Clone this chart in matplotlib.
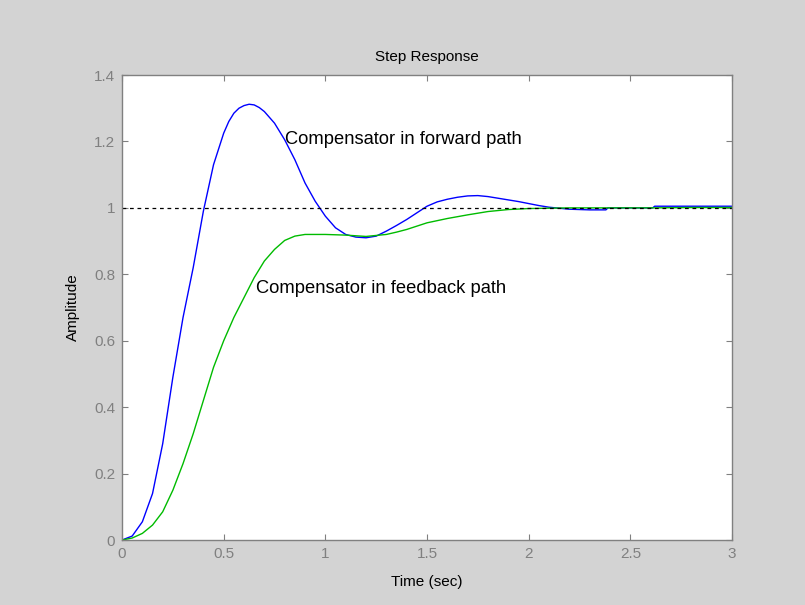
import numpy as np
import matplotlib.pyplot as plt
from matplotlib.ticker import FormatStrFormatter

plt.rcParams['font.family'] = ['Liberation Sans', 'DejaVu Sans']

# Compensator in forward path
t_fwd = [0, 0.05, 0.1, 0.15, 0.2, 0.25, 0.3, 0.35, 0.4, 0.45, 0.5, 0.525,
         0.55, 0.575, 0.6, 0.625, 0.65, 0.675, 0.7, 0.75, 0.8, 0.85, 0.9,
         0.95, 1.0, 1.05, 1.1, 1.15, 1.2, 1.25, 1.3, 1.35, 1.4, 1.45, 1.5,
         1.55, 1.6, 1.65, 1.7, 1.75, 1.8, 1.85, 1.9, 1.95, 2.0, 2.05, 2.1,
         2.2, 2.3, 2.38, 2.39, 2.61, 2.62, 2.8, 3.0]
y_fwd = [0, 0.012, 0.055, 0.14, 0.29, 0.49, 0.67, 0.82, 0.99, 1.13, 1.225,
         1.26, 1.285, 1.3, 1.308, 1.312, 1.31, 1.302, 1.29, 1.255, 1.205,
         1.145, 1.075, 1.02, 0.975, 0.94, 0.92, 0.912, 0.91, 0.915, 0.93,
         0.947, 0.965, 0.985, 1.005, 1.018, 1.026, 1.032, 1.036, 1.037,
         1.034, 1.029, 1.024, 1.019, 1.013, 1.007, 1.002, 0.996, 0.994,
         0.994, 1.0, 1.0, 1.005, 1.005, 1.005]

# Compensator in feedback path
t_fb = [0, 0.05, 0.1, 0.15, 0.2, 0.25, 0.3, 0.35, 0.4, 0.45, 0.5, 0.55,
        0.6, 0.65, 0.7, 0.75, 0.8, 0.85, 0.9, 1.0, 1.1, 1.2, 1.3, 1.35,
        1.4, 1.5, 1.6, 1.7, 1.8, 1.9, 2.0, 2.2, 2.4, 2.6, 2.8, 3.0]
y_fb = [0, 0.006, 0.02, 0.045, 0.085, 0.15, 0.23, 0.32, 0.42, 0.52, 0.6,
        0.67, 0.73, 0.79, 0.84, 0.875, 0.902, 0.915, 0.92, 0.92, 0.918,
        0.914, 0.92, 0.927, 0.935, 0.955, 0.968, 0.979, 0.989, 0.995, 0.998,
        1.0, 1.0, 1.0, 1.001, 1.001]

xticks = [0, 0.5, 1, 1.5, 2, 2.5, 3]
yticks = [0, 0.2, 0.4, 0.6, 0.8, 1, 1.2, 1.4]

bg = '#d3d3d3'
edge = '#808080'

fig = plt.figure(figsize=(8.05, 6.05), dpi=100, facecolor=bg)
ax = fig.add_axes([0.1516, 0.1074, 0.7577, 0.7686])
ax.set_facecolor('white')

ax.plot(t_fwd, y_fwd, color='#0000ff', lw=1.0)
ax.plot(t_fb, y_fb, color='#00bb00', lw=1.0)
ax.axhline(1, color='black', ls=(0, (3, 3)), lw=0.9)

ax.text(0.80, 1.207, 'Compensator in forward path', fontsize=13.2, va='center')
ax.text(0.66, 0.756, 'Compensator in feedback path', fontsize=13.2, va='center')

ax.set_xlim(0, 3)
ax.set_ylim(0, 1.4)
ax.set_xticks(xticks)
ax.set_yticks(yticks)
ax.xaxis.set_major_formatter(FormatStrFormatter('%g'))
ax.yaxis.set_major_formatter(FormatStrFormatter('%g'))
ax.tick_params(direction='in', top=True, right=True, length=4, width=0.8,
               color=edge, labelcolor=edge, labelsize=11, pad=5)
for s in ax.spines.values():
    s.set_color(edge)
    s.set_linewidth(1.0)

ax.set_title('Step Response', fontsize=11, pad=10)
ax.set_xlabel('Time (sec)', fontsize=11, labelpad=10)
ax.set_ylabel('Amplitude', fontsize=11, labelpad=10)

fig.savefig('out.png', dpi=100, facecolor=bg)
